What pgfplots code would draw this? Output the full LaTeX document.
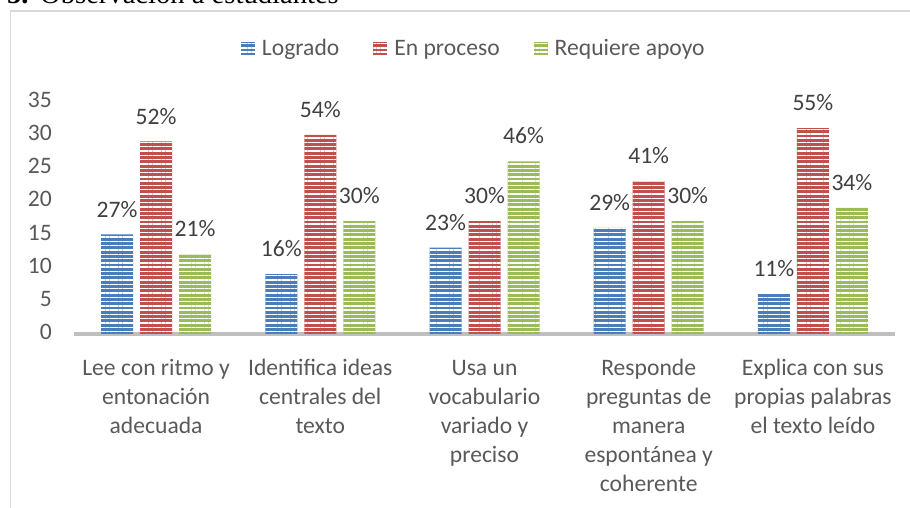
\documentclass[border=0pt]{standalone}
\usepackage{pgfplots}
\pgfplotsset{compat=1.18}
\usepackage{pgfplotstable}
\usetikzlibrary{patterns.meta}
\usepackage{fontspec}
\setmainfont{Carlito}
\newfontfamily\timesfont{Liberation Serif}
\definecolor{cblue}{HTML}{4A7EBB}
\definecolor{cred}{HTML}{C0504D}
\definecolor{cgreen}{HTML}{9BBB59}
\definecolor{tickgray}{HTML}{595959}
\definecolor{labgray}{HTML}{404040}
\definecolor{framegray}{HTML}{D9D9D9}
\definecolor{axisgray}{HTML}{BFBFBF}
\newcommand{\cf}{\fontsize{23.6}{29}\selectfont}

\pgfplotstableread{
x lo lop ep epp ra rap
0 15 27 29 52 12 21
1 9  16 30 54 17 30
2 13 23 17 30 26 46
3 16 29 23 41 17 30
4 6  11 31 55 19 34
}\data

\begin{document}
\begin{tikzpicture}[x=1pt,y=1pt]
\draw[framegray, line width=1.5pt] (960,497) -- (10.5,497) -- (10.5,-20);
\node[anchor=base west, inner sep=0pt, font=\timesfont\fontsize{28.6}{30}\selectfont] at (7,504) {\textbf{5.}};
\node[anchor=base west, inner sep=0pt, font=\timesfont\fontsize{28.6}{30}\selectfont] at (40,504) {Observación a estudiantes};
\begin{axis}[
  at={(74pt,174pt)}, anchor=south west, scale only axis,
  width=821pt, height=232.4pt,
  ybar=7pt, bar width=32pt,
  xmin=-0.5, xmax=4.5, ymin=0, ymax=35,
  ytick={0,5,...,35},
  xtick=data,
  xticklabels={{Lee con ritmo y\\entonación\\adecuada},{Identifica ideas\\centrales del\\texto},{Usa un\\vocabulario\\variado y\\preciso},{Responde\\preguntas de\\manera\\espontánea y\\coherente},{Explica con sus\\propias palabras\\el texto leído}},
  typeset ticklabels with strut,
  axis x line=bottom, axis y line=left,
  x axis line style={-, draw=axisgray, line width=3.5pt},
  y axis line style={draw=none},
  major tick length=0pt,
  tick style={draw=none},
  /pgf/number format/assume math mode=true,
  ticklabel style={font=\cf, text=tickgray},
  yticklabel style={anchor=east, inner sep=0pt, xshift=-22pt},
  xticklabel style={anchor=north, inner sep=0pt, yshift=-21pt, align=center},
  clip=false,
  point meta=explicit,
  nodes near coords={\pgfmathprintnumber{\pgfplotspointmeta}\%},
  every node near coord/.append style={font=\cf, text=labgray, inner sep=0pt, anchor=south, yshift=17pt},
  legend style={at={(0.2034,1.229)}, anchor=west, legend columns=3, draw=none, fill=none, inner sep=0pt, outer sep=0pt, font=\cf, text=tickgray, nodes={inner sep=0pt},
    /tikz/every odd column/.append style={column sep=7pt},
    /tikz/every even column/.append style={column sep=34pt}},
  legend image code/.code={\draw[#1, draw=none] (0pt,-6.5pt) rectangle (14pt,6.5pt);},
]
\addplot[fill=cblue, draw=none, postaction={pattern={Lines[angle=0,distance=4.3pt,line width=1.4pt]}, pattern color=white, fill opacity=0.75}] table[x=x, y=lo, meta=lop] {\data};
\addplot[fill=cred, draw=none, postaction={pattern={Lines[angle=0,distance=4.3pt,line width=1.4pt]}, pattern color=white, fill opacity=0.75}] table[x=x, y=ep, meta=epp] {\data};
\addplot[fill=cgreen, draw=none, postaction={pattern={Lines[angle=0,distance=4.3pt,line width=1.4pt]}, pattern color=white, fill opacity=0.75}] table[x=x, y=ra, meta=rap] {\data};
\legend{Logrado, En proceso, Requiere apoyo}
\end{axis}
\pgfresetboundingbox
\useasboundingbox (0,0) rectangle (910,508);
\end{tikzpicture}
\end{document}
